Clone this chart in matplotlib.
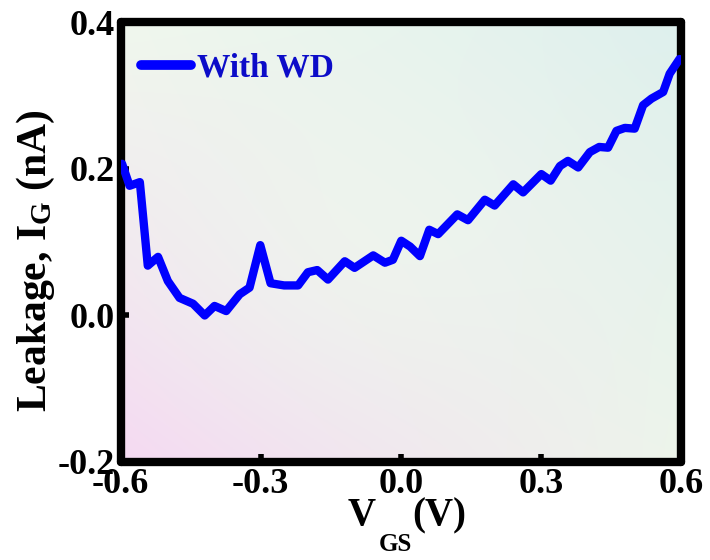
import numpy as np
import matplotlib
matplotlib.use('Agg')
from matplotlib import pyplot as plt

# gate leakage vs V_GS
vgs = [-0.597, -0.581, -0.559, -0.542, -0.520, -0.499, -0.474, -0.445, -0.420,
       -0.399, -0.374, -0.345, -0.324, -0.301, -0.279, -0.250, -0.220, -0.199,
       -0.179, -0.156, -0.120, -0.099, -0.059, -0.034, -0.017, 0.001, 0.020,
       0.041, 0.061, 0.080, 0.121, 0.144, 0.180, 0.201, 0.241, 0.262, 0.301,
       0.321, 0.341, 0.358, 0.380, 0.405, 0.425, 0.444, 0.462, 0.480, 0.501,
       0.519, 0.537, 0.562, 0.576, 0.597]
ig = [0.207, 0.177, 0.182, 0.068, 0.080, 0.047, 0.024, 0.016, 0.000,
      0.013, 0.006, 0.029, 0.038, 0.096, 0.044, 0.041, 0.041, 0.059,
      0.062, 0.049, 0.074, 0.065, 0.082, 0.072, 0.076, 0.102, 0.094,
      0.081, 0.117, 0.111, 0.138, 0.130, 0.158, 0.150, 0.179, 0.168, 0.193,
      0.184, 0.204, 0.211, 0.202, 0.223, 0.230, 0.229, 0.252, 0.256, 0.255,
      0.287, 0.296, 0.305, 0.330, 0.350]

xticks = [-0.6, -0.3, 0.0, 0.3, 0.6]
yticks = [-0.2, 0.0, 0.2, 0.4]
label = 'With WD'

plt.rcParams['font.family'] = 'Liberation Serif'
plt.rcParams['font.weight'] = 'bold'
plt.rcParams['mathtext.fontset'] = 'custom'
plt.rcParams['mathtext.rm'] = 'Liberation Serif:bold'
plt.rcParams['mathtext.it'] = 'Liberation Serif:bold'
plt.rcParams['mathtext.bf'] = 'Liberation Serif:bold'

fig = plt.figure(figsize=(7.1, 5.6), dpi=100)
ax = fig.add_axes([0.170, 0.175, 0.789, 0.785])

# soft background gradient: pink bottom-left -> pale green -> cyan top-right
corners = np.array([[[0.96, 0.85, 0.95], [0.93, 0.96, 0.92]],
                    [[0.94, 0.97, 0.93], [0.87, 0.94, 0.93]]])
n = 200
u = np.linspace(0, 1, n)
uu, vv = np.meshgrid(u, u)
bg = (corners[0, 0] * ((1 - uu) * (1 - vv))[..., None] +
      corners[0, 1] * (uu * (1 - vv))[..., None] +
      corners[1, 0] * ((1 - uu) * vv)[..., None] +
      corners[1, 1] * (uu * vv)[..., None])
mid = np.exp(-((uu - 0.45) ** 2 + (vv - 0.5) ** 2) / 0.15)[..., None]
bg = bg * (1 - 0.5 * mid) + np.array([0.94, 0.98, 0.93]) * 0.5 * mid
ax.imshow(bg, extent=[-0.6, 0.6, -0.2, 0.4], origin='lower', aspect='auto', zorder=0)

ax.plot(vgs, ig, color='#0000ff', lw=6, solid_joinstyle='round',
        solid_capstyle='round', label=label, zorder=3)

ax.set_xlim(-0.6, 0.6)
ax.set_ylim(-0.2, 0.4)
ax.set_xticks(xticks)
ax.set_xticklabels(['-0.6', '-0.3', '0.0', '0.3', '0.6'])
ax.set_yticks(yticks)
ax.set_yticklabels(['-0.2', '0.0', '0.2', '0.4'])
ax.tick_params(direction='in', length=6, width=4, labelsize=26, pad=4)

for s in ax.spines.values():
    s.set_linewidth(6)
    s.set_capstyle('round')

# x label with a deep subscript, as in the reference
fig.text(348 / 710, 1 - 525 / 560, 'V', fontsize=28, fontweight='bold',
         ha='left', va='baseline')
fig.text(379 / 710, 1 - 551 / 560, 'GS', fontsize=18, fontweight='bold',
         ha='left', va='baseline')
fig.text(412 / 710, 1 - 525 / 560, '(V)', fontsize=28, fontweight='bold',
         ha='left', va='baseline')

ax.set_ylabel('Leakage, I$_{\\mathrm{G}}$ (nA)', fontsize=30, fontweight='bold')
ax.yaxis.set_label_coords(-0.114, 0.457)

leg = ax.legend(loc='upper left', bbox_to_anchor=(-0.018, 1.0), frameon=False,
                fontsize=24, handlelength=1.5, handletextpad=0.2, borderaxespad=0.5)
for t in leg.get_texts():
    t.set_color('#0c0cc8')
for h in leg.get_lines():
    h.set_linewidth(7)

fig.savefig('out.png', dpi=100)
